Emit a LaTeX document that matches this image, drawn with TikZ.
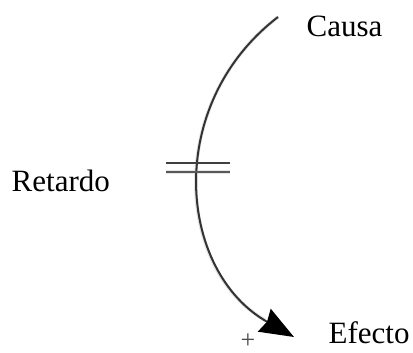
\documentclass[tikz,border=0pt]{standalone}
\usepackage{fontspec}
\setmainfont{Liberation Serif}
\usetikzlibrary{arrows.meta}
\begin{document}
\begin{tikzpicture}[x=1pt,y=-1pt,
  lbl/.style={inner sep=0pt,font=\fontsize{31}{36}\selectfont},
  link/.style={line width=2pt,draw=black!80},
  shade/.style={line width=3.5pt,draw=black!10},
  bar/.style={line width=2pt,draw=black!75},
  pm/.style={inner sep=0pt,font=\fontsize{26}{28}\selectfont,text=black!70}]
\useasboundingbox (0,0) rectangle (413,353);
% endpoints
\coordinate (start) at (278,17);
\coordinate (tip) at (294,337);
\coordinate (c1) at (163,105.5);
\coordinate (c2) at (178,271.5);
\coordinate (barAl) at (166,163);
\coordinate (barAr) at (230,163);
\coordinate (barBl) at (166,172);
\coordinate (barBr) at (230,172);
% soft shadow
\begin{scope}[shift={(3,2)}]
\draw[shade] (start) .. controls (c1) and (c2) .. (262,318);
\draw[shade] (barBl) -- (barBr);
\end{scope}
% connector
\draw[link,-{Stealth[length=34pt,width=26pt,inset=3pt,color=black]}] (start) .. controls (c1) and (c2) .. (tip);
% delay bars
\draw[bar] (barAl) -- (barAr);
\draw[bar,line width=2.4pt,draw=black!65] (barBl) -- (barBr);
% labels
\node[lbl,anchor=base west] (causa) at (306.5,37) {Causa};
\node[lbl,anchor=base west] (retardo) at (11.5,192) {Retardo};
\node[lbl,anchor=base west] (efecto) at (328.5,343) {Efecto};
\node[pm] (plus) at (248,341) {+};
\end{tikzpicture}
\end{document}
